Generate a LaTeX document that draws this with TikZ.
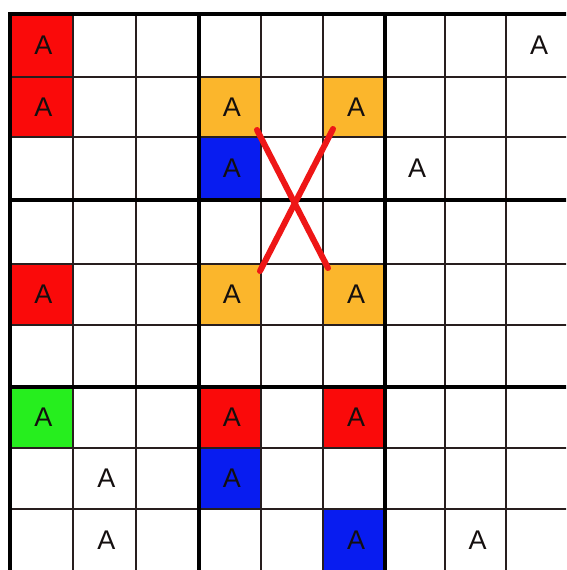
\documentclass[tikz,border=0pt]{standalone}
\usepackage{fontspec}
\setmainfont{Liberation Sans}
\definecolor{cred}{RGB}{250,10,10}
\definecolor{corange}{RGB}{251,182,44}
\definecolor{cblue}{RGB}{8,28,240}
\definecolor{cgreen}{RGB}{38,238,30}
\definecolor{gridc}{RGB}{40,30,30}
\definecolor{textc}{RGB}{20,15,15}
\definecolor{xred}{RGB}{238,22,22}
\begin{document}
\begin{tikzpicture}[x=1pt,y=-1pt,
  thingrid/.style={line width=1.8pt, draw=gridc},
  thickgrid/.style={line width=4pt, draw=black, line cap=rect},
  letter/.style={font=\fontsize{27}{27}\selectfont, text=textc, inner sep=0pt},
  cross/.style={line width=6pt, draw=xred, line cap=round}]
\useasboundingbox (0,0) rectangle (566,570);
\clip (0,0) rectangle (566,570);
\fill[white] (0,0) rectangle (566,570);
\def\xs{{10,73,136,199,261,323,385,445,506,568}}
\def\ys{{14,77,137,200,264,325,387,448,509,571}}
% coloured cells
\foreach \c/\r/\colr in {0/0/cred,0/1/cred,0/4/cred,3/6/cred,5/6/cred,
  3/1/corange,5/1/corange,3/4/corange,5/4/corange,
  3/2/cblue,3/7/cblue,5/8/cblue,0/6/cgreen}{
  \pgfmathsetmacro\xa{\xs[\c]}\pgfmathsetmacro\xb{\xs[\c+1]}
  \pgfmathsetmacro\ya{\ys[\r]}\pgfmathsetmacro\yb{\ys[\r+1]}
  \fill[\colr] (\xa,\ya) rectangle (\xb,\yb);
}
% thin grid lines
\foreach \i in {1,2,4,5,7,8}{
  \pgfmathsetmacro\xx{\xs[\i]}\pgfmathsetmacro\yy{\ys[\i]}
  \draw[thingrid] (\xx,14) -- (\xx,580);
  \draw[thingrid] (10,\yy) -- (580,\yy);
}
% thick grid lines
\foreach \i in {0,3,6}{
  \pgfmathsetmacro\xx{\xs[\i]}\pgfmathsetmacro\yy{\ys[\i]}
  \draw[thickgrid] (\xx,14) -- (\xx,580);
  \draw[thickgrid] (10,\yy) -- (580,\yy);
}
% letters
\foreach \c/\r in {0/0,0/1,0/4,3/6,5/6,3/1,5/1,3/4,5/4,3/2,3/7,5/8,0/6,
  8/0,6/2,1/7,1/8,7/8}{
  \pgfmathsetmacro\xa{\xs[\c]}\pgfmathsetmacro\xb{\xs[\c+1]}
  \pgfmathsetmacro\ya{\ys[\r]}\pgfmathsetmacro\yb{\ys[\r+1]}
  \node[letter] (a-\c-\r) at ({(\xa+\xb)/2+2},{(\ya+\yb)/2}) {A};
}
% red cross
\coordinate (x1a) at (257,130);
\coordinate (x1b) at (328,268);
\coordinate (x2a) at (333,129);
\coordinate (x2b) at (260,271);
\draw[cross] (x1a) -- (x1b);
\draw[cross] (x2a) -- (x2b);
\end{tikzpicture}
\end{document}
